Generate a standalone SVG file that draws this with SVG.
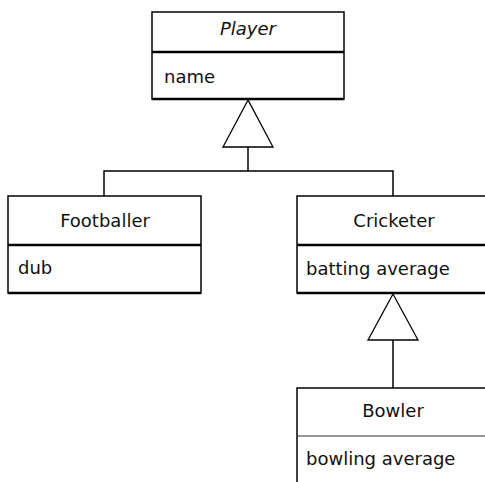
<svg xmlns="http://www.w3.org/2000/svg" width="485" height="482" viewBox="0 0 485 482">
<style>
.box{fill:#fff;stroke:#000;stroke-width:1.5}
.div{stroke:#000;stroke-width:2.5}
.thin{stroke:#333;stroke-width:1.2}
.bot{stroke:#000;stroke-width:2.5}
.t{font-family:"DejaVu Sans",Verdana,sans-serif;font-size:18px;fill:#111}
.c{text-anchor:middle}
.i{font-style:italic}
.ln{fill:none;stroke:#000;stroke-width:1.5}
.tri{fill:#fff;stroke:#000;stroke-width:1.3}
</style>
<rect width="485" height="482" fill="#fff"/>
<g id="connectors">
<polyline class="ln" points="104,196 104,171 393,171 393,196"/>
<line class="ln" x1="248" y1="147" x2="248" y2="171"/>
<polygon class="tri" points="248,100 223,147 273,147"/>
<line class="ln" x1="393" y1="340" x2="393" y2="388"/>
<polygon class="tri" points="393,294 368,340 418,340"/>
</g>
<g id="player">
<rect class="box" x="152" y="12" width="192" height="87"/>
<line class="div" x1="152" y1="52" x2="344" y2="52"/>
<line class="bot" x1="152" y1="99" x2="344" y2="99"/>
<text class="t c i" x="248" y="35">Player</text>
<text class="t" x="164" y="83">name</text>
</g>
<g id="footballer">
<rect class="box" x="8" y="196" width="193" height="97"/>
<line class="div" x1="8" y1="245" x2="201" y2="245"/>
<line class="bot" x1="8" y1="293" x2="201" y2="293"/>
<text class="t c" x="105" y="227">Footballer</text>
<text class="t" x="18" y="274">dub</text>
</g>
<g id="cricketer">
<rect class="box" x="297" y="196" width="193" height="97"/>
<line class="div" x1="297" y1="245" x2="490" y2="245"/>
<line class="bot" x1="297" y1="293" x2="490" y2="293"/>
<text class="t c" x="394" y="227">Cricketer</text>
<text class="t" x="306" y="275">batting average</text>
</g>
<g id="bowler">
<rect class="box" x="297" y="388" width="193" height="110"/>
<line class="thin" x1="297" y1="436" x2="490" y2="436"/>
<text class="t c" x="393" y="417">Bowler</text>
<text class="t" x="306" y="465">bowling average</text>
</g>
</svg>
